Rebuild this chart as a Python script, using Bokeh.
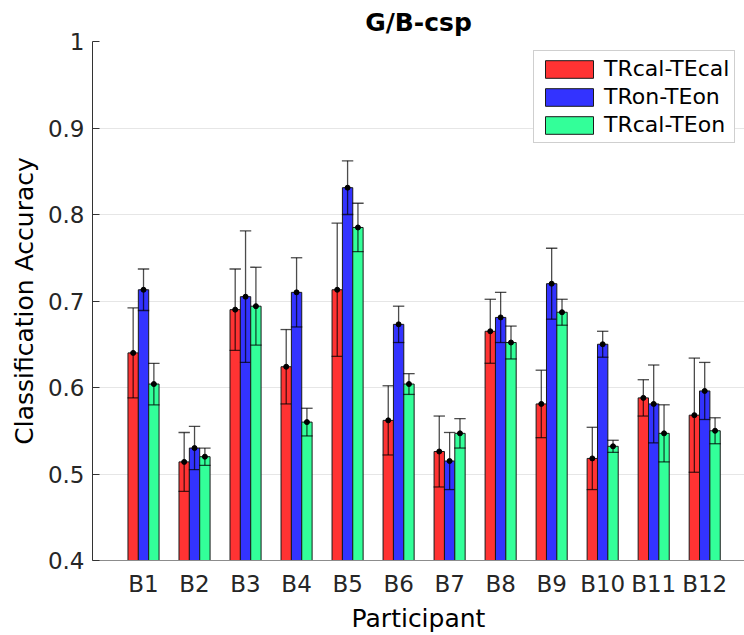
from bokeh.plotting import figure
from bokeh.models import Range1d, FixedTicker, Legend, LegendItem, ColumnDataSource
from bokeh.embed import file_html
from bokeh.resources import INLINE

categories = ["B1", "B2", "B3", "B4", "B5", "B6", "B7", "B8", "B9", "B10", "B11", "B12"]
series_names = ["TRcal-TEcal", "TRon-TEon", "TRcal-TEon"]

cal_cal = [0.640, 0.514, 0.690, 0.624, 0.713, 0.562, 0.526, 0.665, 0.581, 0.518, 0.588, 0.568]
on_on = [0.713, 0.530, 0.705, 0.710, 0.831, 0.673, 0.515, 0.681, 0.720, 0.650, 0.581, 0.596]
cal_on = [0.604, 0.520, 0.694, 0.560, 0.785, 0.604, 0.547, 0.652, 0.687, 0.532, 0.547, 0.550]

err_cal_cal = [0.052, 0.034, 0.047, 0.043, 0.077, 0.040, 0.041, 0.037, 0.039, 0.036, 0.021, 0.066]
err_on_on = [0.024, 0.025, 0.076, 0.040, 0.031, 0.021, 0.033, 0.029, 0.041, 0.015, 0.045, 0.033]
err_cal_on = [0.024, 0.010, 0.045, 0.016, 0.028, 0.012, 0.017, 0.019, 0.015, 0.007, 0.033, 0.015]

y_ticks = [0.4, 0.5, 0.6, 0.7, 0.8, 0.9, 1.0]
y_tick_labels = ["0.4", "0.5", "0.6", "0.7", "0.8", "0.9", "1"]

colors = ["#ff3333", "#3333ff", "#33ff99"]
text_col = "#262626"
FONT = "DejaVu Sans"

p = figure(width=744, height=635, output_backend="svg", toolbar_location=None,
           x_range=Range1d(0, 12.78), y_range=Range1d(0.4, 1.0),
           min_border_left=92, min_border_right=0, min_border_top=41, min_border_bottom=74)
p.outline_line_color = None
p.background_fill_color = "white"

p.title.text = "G/B-csp"
p.title.align = "center"
p.title.text_font = FONT
p.title.text_font_size = "25px"
p.title.text_font_style = "bold"
p.title.text_color = "#000000"
p.title.offset = 5

xs = list(range(1, len(categories) + 1))
width = 0.203
offsets = [-width, 0.0, width]
all_means = [cal_cal, on_on, cal_on]
all_errs = [err_cal_cal, err_on_on, err_cal_on]

items = []
for name, col, off, m, e in zip(series_names, colors, offsets, all_means, all_errs):
    x = [xi + off for xi in xs]
    src = ColumnDataSource(dict(x=x, top=m,
                                lo=[a - b for a, b in zip(m, e)],
                                hi=[a + b for a, b in zip(m, e)],
                                cl=[xi - width * 0.55 for xi in x],
                                cr=[xi + width * 0.55 for xi in x]))
    r = p.vbar(x="x", top="top", bottom=0, width=width, source=src,
               fill_color=col, line_color="#1a1a1a", line_width=1)
    items.append(LegendItem(label=name, renderers=[r]))
    p.segment(x0="x", y0="lo", x1="x", y1="hi", source=src, line_color="black", line_alpha=0.7, line_width=1.3)
    p.segment(x0="cl", y0="hi", x1="cr", y1="hi", source=src, line_color="black", line_alpha=0.7, line_width=1.3)
    p.segment(x0="cl", y0="lo", x1="cr", y1="lo", source=src, line_color="black", line_alpha=0.7, line_width=1.3)
    p.scatter(x="x", y="top", source=src, size=5, color="black")

# axes
p.yaxis.ticker = FixedTicker(ticks=y_ticks)
p.yaxis.major_label_overrides = {t: l for t, l in zip(y_ticks, y_tick_labels)}
p.yaxis.major_tick_in = 7
p.yaxis.major_tick_out = 0
p.yaxis.minor_tick_line_color = None
p.yaxis.axis_line_color = "#333333"
p.yaxis.major_tick_line_color = "#333333"
p.yaxis.major_label_text_font = FONT
p.yaxis.major_label_text_font_size = "23px"
p.yaxis.major_label_text_color = text_col
p.yaxis.major_label_standoff = 8
p.yaxis.axis_label = "Classification Accuracy"
p.yaxis.axis_label_text_font = FONT
p.yaxis.axis_label_text_font_size = "25px"
p.yaxis.axis_label_text_font_style = "normal"
p.yaxis.axis_label_text_color = "#000000"
p.yaxis.axis_label_standoff = 6

p.xaxis.ticker = FixedTicker(ticks=xs)
p.xaxis.major_label_overrides = {i: c for i, c in zip(xs, categories)}
p.xaxis.major_tick_in = 0
p.xaxis.major_tick_out = 0
p.xaxis.minor_tick_line_color = None
p.xaxis.axis_line_color = "#8c8c8c"
p.xaxis.major_label_text_font = FONT
p.xaxis.major_label_text_font_size = "23px"
p.xaxis.major_label_text_color = text_col
p.xaxis.major_label_standoff = 10
p.xaxis.axis_label = "Participant"
p.xaxis.axis_label_text_font = FONT
p.xaxis.axis_label_text_font_size = "25px"
p.xaxis.axis_label_text_font_style = "normal"
p.xaxis.axis_label_text_color = "#000000"
p.xaxis.axis_label_standoff = 4

p.xgrid.grid_line_color = None
p.ygrid.ticker = FixedTicker(ticks=y_ticks)
p.ygrid.grid_line_color = "#e6e6e6"
p.ygrid.grid_line_width = 1

legend = Legend(items=items, location=(441, 417))
legend.glyph_width = 60
legend.glyph_height = 22
legend.label_height = 22
legend.label_text_font = FONT
legend.label_text_font_size = "22px"
legend.label_text_color = "#000000"
legend.label_standoff = 5
legend.spacing = 3
legend.padding = 5
legend.margin = 0
legend.border_line_color = "#a0a0a0"
legend.border_line_width = 1
legend.background_fill_color = "white"
legend.background_fill_alpha = 1
p.add_layout(legend)

open("out.html", "w").write(file_html(p, INLINE))
